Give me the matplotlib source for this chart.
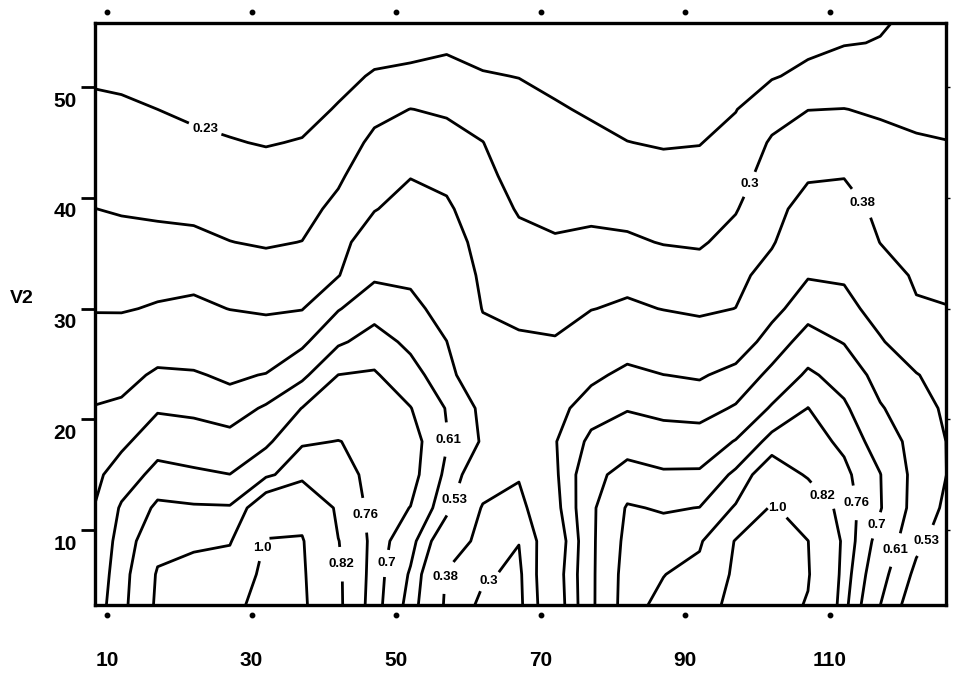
import matplotlib
matplotlib.use("Agg")
import matplotlib.pyplot as plt
import numpy as np
from matplotlib.transforms import ScaledTranslation

plt.rcParams['font.family'] = ['Liberation Sans', 'DejaVu Sans']
plt.rcParams['font.weight'] = 'bold'

# ---- grid node positions (data units) ----
x_nodes = [8, 12, 17, 22, 27, 32, 37, 42, 47, 52, 57, 62, 67, 72, 77, 82,
           87, 92, 97, 102, 107, 112, 117, 122, 127]
y_nodes = [3, 6, 9, 12, 15, 18, 21, 24, 27, 30, 33, 36, 39, 42, 45, 48, 51, 54, 57]

# ---- estimated field values, one list per x node (from y=3 up to y=57) ----
c008 = [0.660, 0.645, 0.630, 0.606, 0.582, 0.558, 0.534, 0.481, 0.424, 0.374, 0.349, 0.325, 0.301, 0.281, 0.262, 0.242, 0.223, 0.200, 0.180]
c012 = [0.745, 0.740, 0.730, 0.710, 0.656, 0.589, 0.548, 0.494, 0.428, 0.373, 0.346, 0.319, 0.295, 0.276, 0.257, 0.238, 0.220, 0.204, 0.180]
c017 = [0.830, 0.825, 0.803, 0.771, 0.725, 0.667, 0.600, 0.547, 0.472, 0.388, 0.349, 0.317, 0.290, 0.270, 0.249, 0.230, 0.210, 0.190, 0.170]
c022 = [0.895, 0.850, 0.805, 0.766, 0.713, 0.653, 0.592, 0.540, 0.471, 0.400, 0.352, 0.314, 0.286, 0.264, 0.241, 0.220, 0.200, 0.180, 0.160]
c027 = [0.965, 0.890, 0.810, 0.765, 0.701, 0.637, 0.574, 0.513, 0.445, 0.378, 0.339, 0.301, 0.278, 0.256, 0.233, 0.215, 0.195, 0.175, 0.155]
c032 = [1.050, 1.040, 1.010, 0.880, 0.750, 0.688, 0.620, 0.535, 0.440, 0.366, 0.327, 0.294, 0.272, 0.250, 0.227, 0.210, 0.190, 0.170, 0.150]
c037 = [1.030, 1.020, 1.010, 0.950, 0.790, 0.755, 0.702, 0.590, 0.515, 0.374, 0.337, 0.301, 0.278, 0.256, 0.233, 0.213, 0.200, 0.180, 0.160]
c042 = [0.832, 0.830, 0.822, 0.800, 0.780, 0.761, 0.731, 0.701, 0.597, 0.525, 0.374, 0.345, 0.317, 0.289, 0.261, 0.234, 0.215, 0.200, 0.190]
c047 = [0.735, 0.740, 0.745, 0.745, 0.745, 0.750, 0.745, 0.710, 0.645, 0.578, 0.518, 0.442, 0.375, 0.346, 0.316, 0.280, 0.235, 0.210, 0.200]
c052 = [0.575, 0.600, 0.640, 0.698, 0.735, 0.740, 0.703, 0.642, 0.591, 0.554, 0.513, 0.467, 0.420, 0.376, 0.338, 0.301, 0.240, 0.215, 0.200]
c057 = [0.360, 0.370, 0.450, 0.555, 0.590, 0.615, 0.605, 0.560, 0.531, 0.496, 0.461, 0.427, 0.393, 0.360, 0.325, 0.291, 0.245, 0.222, 0.210]
c062 = [0.280, 0.310, 0.345, 0.370, 0.450, 0.520, 0.510, 0.450, 0.411, 0.376, 0.361, 0.346, 0.331, 0.316, 0.301, 0.272, 0.233, 0.215, 0.210]
c067 = [0.280, 0.285, 0.302, 0.345, 0.390, 0.450, 0.465, 0.430, 0.390, 0.362, 0.339, 0.315, 0.295, 0.278, 0.262, 0.245, 0.229, 0.210, 0.200]
c072 = [0.470, 0.480, 0.460, 0.500, 0.515, 0.525, 0.500, 0.450, 0.385, 0.357, 0.331, 0.305, 0.286, 0.270, 0.252, 0.236, 0.216, 0.200, 0.190]
c077 = [0.690, 0.690, 0.690, 0.690, 0.680, 0.630, 0.573, 0.510, 0.442, 0.377, 0.344, 0.312, 0.287, 0.266, 0.244, 0.223, 0.200, 0.185, 0.170]
c082 = [0.786, 0.783, 0.775, 0.765, 0.725, 0.670, 0.604, 0.553, 0.483, 0.396, 0.348, 0.309, 0.281, 0.257, 0.231, 0.210, 0.190, 0.175, 0.160]
c087 = [0.850, 0.817, 0.786, 0.755, 0.710, 0.650, 0.587, 0.531, 0.454, 0.377, 0.336, 0.297, 0.274, 0.250, 0.225, 0.200, 0.180, 0.165, 0.150]
c092 = [0.945, 0.860, 0.802, 0.761, 0.712, 0.646, 0.581, 0.521, 0.432, 0.364, 0.326, 0.293, 0.272, 0.250, 0.228, 0.195, 0.175, 0.160, 0.150]
c097 = [1.040, 1.030, 1.010, 0.827, 0.772, 0.705, 0.618, 0.557, 0.478, 0.381, 0.351, 0.321, 0.296, 0.273, 0.250, 0.228, 0.205, 0.185, 0.170]
c102 = [1.050, 1.060, 1.050, 1.020, 0.876, 0.780, 0.710, 0.630, 0.567, 0.503, 0.421, 0.370, 0.349, 0.328, 0.308, 0.272, 0.225, 0.205, 0.190]
c107 = [0.990, 1.010, 1.002, 0.892, 0.810, 0.786, 0.761, 0.715, 0.644, 0.579, 0.524, 0.471, 0.418, 0.370, 0.334, 0.299, 0.245, 0.215, 0.200]
c112 = [0.778, 0.790, 0.800, 0.790, 0.775, 0.747, 0.714, 0.665, 0.606, 0.563, 0.517, 0.469, 0.422, 0.376, 0.338, 0.301, 0.262, 0.227, 0.210]
c117 = [0.608, 0.640, 0.670, 0.705, 0.702, 0.665, 0.617, 0.578, 0.540, 0.489, 0.430, 0.378, 0.357, 0.337, 0.316, 0.293, 0.256, 0.232, 0.222]
c122 = [0.470, 0.510, 0.550, 0.575, 0.580, 0.575, 0.560, 0.535, 0.463, 0.390, 0.366, 0.351, 0.336, 0.321, 0.306, 0.285, 0.262, 0.245, 0.235]
c127 = [0.420, 0.450, 0.480, 0.505, 0.520, 0.520, 0.510, 0.480, 0.430, 0.381, 0.365, 0.349, 0.333, 0.317, 0.301, 0.275, 0.260, 0.245, 0.235]

# ---- contour levels and their printed labels ----
levels = [0.23, 0.3, 0.38, 0.53, 0.61, 0.7, 0.76, 0.82, 1.0]
level_text = ['0.23', '0.3', '0.38', '0.53', '0.61', '0.7', '0.76', '0.82', '1.0']

# approximate label anchor spots
label_x = [23.6, 99.0, 114.2, 56.4, 58.2, 45.0, 42.2, 48.5, 31.5, 56.8, 61.9,
           102.5, 108.0, 114.0, 115.6, 123.4, 118.1]
label_y = [46.3, 41.2, 39.4, 18.1, 12.7, 11.3, 6.9, 7.0, 8.4, 5.8, 6.2,
           11.8, 12.5, 12.5, 10.6, 9.0, 8.4]

# ---- axes / ticks ----
x_ticks = [10, 30, 50, 70, 90, 110]
y_ticks = [10, 20, 30, 40, 50]
y_tick_text = ['10', '20', '30', '40', '50']
y_label_text = 'V2'

columns = [c008, c012, c017, c022, c027, c032, c037, c042, c047, c052, c057, c062,
           c067, c072, c077, c082, c087, c092, c097, c102, c107, c112, c117, c122, c127]
Z = np.column_stack([np.array(c) for c in columns])
X, Y = np.meshgrid(np.array(x_nodes, float), np.array(y_nodes, float))

fig = plt.figure(figsize=(9.8, 6.81), dpi=100)
fig.patch.set_facecolor('white')
ax = fig.add_axes([95 / 980, 1 - 605 / 681, (946 - 95) / 980, (605 - 23) / 681])

cs = ax.contour(X, Y, Z, levels=levels, colors='black', linewidths=2.0)
fmt = {lv: t for lv, t in zip(cs.levels, level_text)}
labels = ax.clabel(cs, cs.levels, fmt=fmt, fontsize=9.5, inline=True, inline_spacing=4,
                   manual=list(zip(label_x, label_y)))
for t in labels:
    t.set_rotation(0)

ax.set_xlim(8.34, 126.1)
ax.set_ylim(3.23, 55.8)

for s in ax.spines.values():
    s.set_linewidth(2.4)
    s.set_color('black')

ax.set_xticks(x_ticks)
ax.set_xticklabels([str(v) for v in x_ticks])
ax.tick_params(axis='x', length=0, pad=33, labelsize=15)

ax.set_yticks(y_ticks)
ax.set_yticklabels(y_tick_text)
ax.tick_params(axis='y', direction='out', length=10, width=2.0, pad=3,
               labelsize=15, right=True)
for t in ax.yaxis.get_major_ticks():
    t.tick2line.set_color('0.75')
    t.tick2line.set_markersize(3)
    t.tick2line.set_markeredgewidth(1.0)
off = ScaledTranslation(0, -12 / 100, fig.dpi_scale_trans)
for lab in ax.get_yticklabels():
    lab.set_transform(lab.get_transform() + off)

# dot-style tick marks outside bottom and top
ax.plot(x_ticks, [-0.018] * len(x_ticks), 'o', ms=3.2, color='black',
        transform=ax.get_xaxis_transform(), clip_on=False)
ax.plot(x_ticks, [1.019] * len(x_ticks), 'o', ms=3.2, color='black',
        transform=ax.get_xaxis_transform(), clip_on=False)

fig.text(22 / 980, 1 - 298 / 681, y_label_text, ha='center', va='center',
         fontsize=14, fontweight='bold')

fig.savefig('out.png', dpi=100, facecolor='white')
